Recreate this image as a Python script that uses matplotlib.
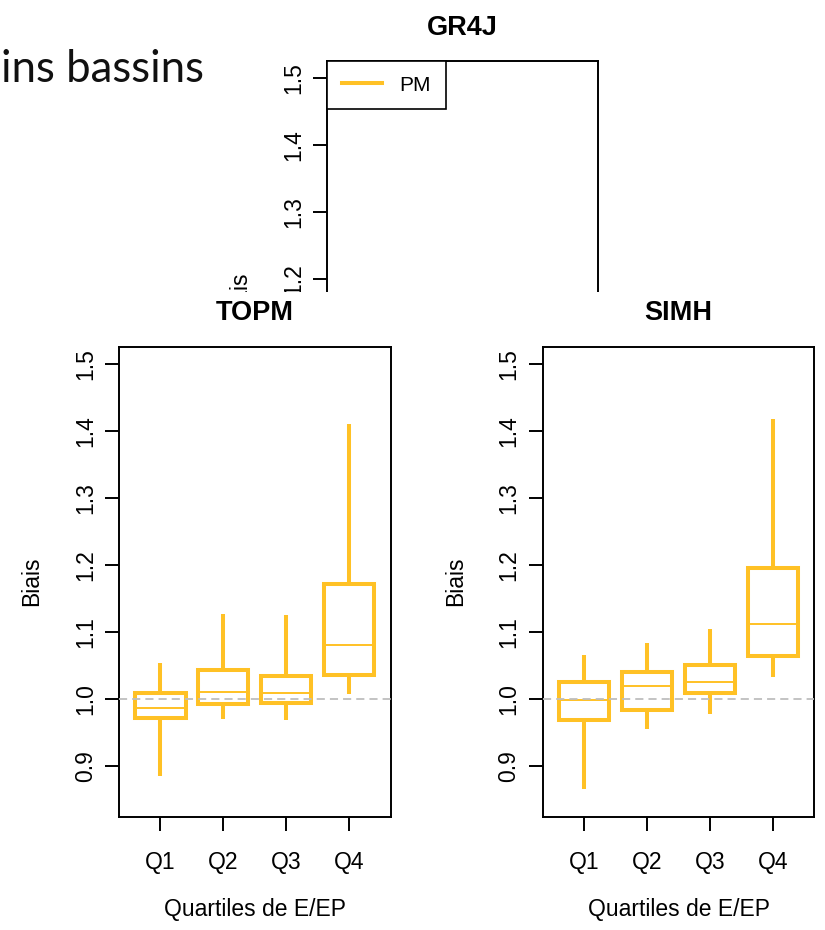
import matplotlib
matplotlib.use("Agg")
import matplotlib.pyplot as plt
from matplotlib.patches import Rectangle

plt.rcParams['font.family'] = ['Liberation Sans', 'DejaVu Sans']

quartiles = ['Q1', 'Q2', 'Q3', 'Q4']
y_ticks = [0.9, 1.0, 1.1, 1.2, 1.3, 1.4, 1.5]
y_tick_labels = ['0.9', '1.0', '1.1', '1.2', '1.3', '1.4', '1.5']

# values: lower whisker, Q1, median, Q3, upper whisker
topm_low = [0.885, 0.970, 0.969, 1.007]
topm_q1 = [0.972, 0.992, 0.9945, 1.035]
topm_med = [0.987, 1.010, 1.0085, 1.080]
topm_q3 = [1.0085, 1.043, 1.034, 1.172]
topm_high = [1.054, 1.127, 1.126, 1.411]

simh_low = [0.865, 0.9555, 0.977, 1.033]
simh_q1 = [0.968, 0.984, 1.0085, 1.0646]
simh_med = [0.998, 1.0195, 1.0256, 1.112]
simh_q3 = [1.025, 1.040, 1.051, 1.196]
simh_high = [1.066, 1.083, 1.105, 1.418]

gold = '#FFC125'
W, H = 825, 930

fig = plt.figure(figsize=(W / 100, H / 100), dpi=100)


def px_axes(left, top, right, bottom, z):
    return fig.add_axes([left / W, 1 - bottom / H, (right - left) / W, (bottom - top) / H], zorder=z)


def style(ax, title, xlab=True):
    ax.set_xlim(0.34, 4.66)
    ax.set_ylim(0.824, 1.526)
    ax.set_xticks(range(1, 5))
    ax.set_yticks(y_ticks)
    ax.set_yticklabels(y_tick_labels)
    for s in ax.spines.values():
        s.set_linewidth(1.4)
    ax.tick_params(direction='out', length=10, width=1.4, labelsize=16.5)
    ax.tick_params(axis='y', labelrotation=90, pad=6)
    ax.tick_params(axis='x', pad=14.5)
    for lbl in ax.get_yticklabels():
        lbl.set_va('center')
    ax.set_title(title, fontsize=19.5, fontweight='bold', pad=19)
    ax.set_ylabel('Biais', fontsize=16.5)
    ax.yaxis.set_label_coords(-0.28, 0.5)
    if xlab:
        ax.set_xticklabels(quartiles)
        ax.set_xlabel('Quartiles de E/EP', fontsize=16.5)
        ax.xaxis.set_label_coords(0.5, -0.172)
    else:
        # this part of the GR4J panel is hidden behind the lower panels
        ax.set_xticklabels([])


def boxes(ax, low, q1, med, q3, high):
    stats = []
    for i in range(4):
        stats.append(dict(whislo=low[i], q1=q1[i], med=med[i], q3=q3[i], whishi=high[i], label=quartiles[i]))
    ax.bxp(stats, positions=[1, 2, 3, 4], widths=0.8, patch_artist=True,
           showcaps=False, showfliers=False, manage_ticks=False,
           boxprops=dict(facecolor='white', edgecolor=gold, linewidth=2.9),
           whiskerprops=dict(color=gold, linewidth=2.9, solid_capstyle='butt'),
           medianprops=dict(color=gold, linewidth=1.4))
    ax.axhline(1.0, color='#BEBEBE', lw=1.3, ls=(0, (4.5, 2.8)), zorder=4)


# GR4J panel, mostly hidden behind the two lower panels
ax0 = px_axes(327, 61, 598, 531, 0)
style(ax0, 'GR4J', xlab=False)
ax0.plot([], [], color=gold, lw=2.9, label='PM')
leg = ax0.legend(loc='upper left', bbox_to_anchor=(0, 1), borderaxespad=0,
                 fontsize=15, fancybox=False, framealpha=1, edgecolor='black',
                 borderpad=0.7, handlelength=1.92, handletextpad=0.87)
leg.get_frame().set_linewidth(1.2)

fig.add_artist(Rectangle((0, 0), 1, 1 - 292 / H, transform=fig.transFigure,
                         facecolor='white', edgecolor='none', zorder=1))

ax1 = px_axes(119, 346.7, 390.5, 816.7, 2)
style(ax1, 'TOPM')
boxes(ax1, topm_low, topm_q1, topm_med, topm_q3, topm_high)

ax2 = px_axes(542.7, 346.7, 814.3, 816.7, 2)
style(ax2, 'SIMH')
boxes(ax2, simh_low, simh_q1, simh_med, simh_q3, simh_high)

fig.text(1 / W, 1 - 82 / H, 'ins bassins', fontsize=31.5, family=['Lato', 'DejaVu Sans'],
         ha='left', va='baseline', color='#111111')

fig.savefig('out.png', dpi=100)
